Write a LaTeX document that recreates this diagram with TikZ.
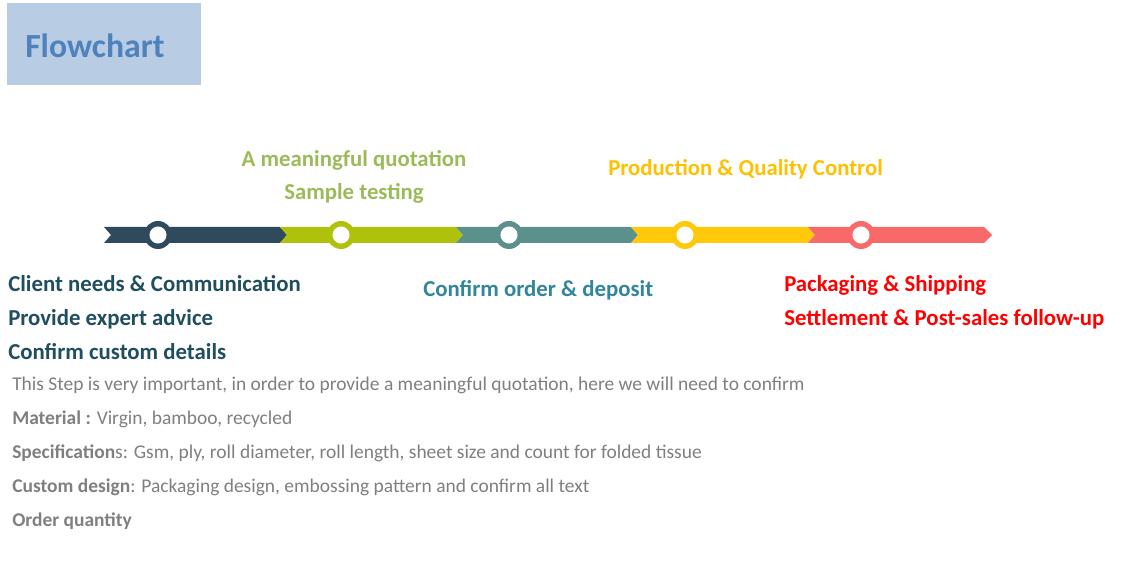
\documentclass[tikz,border=0pt]{standalone}
\usepackage{fontspec}
\setmainfont{Carlito}
\usepackage{xcolor}
\definecolor{boxblue}{RGB}{184,204,228}
\definecolor{titleblue}{RGB}{79,129,189}
\definecolor{navy}{RGB}{46,74,92}
\definecolor{lime}{RGB}{175,193,10}
\definecolor{sea}{RGB}{92,144,140}
\definecolor{gold}{RGB}{255,200,10}
\definecolor{coral}{RGB}{248,106,106}
\definecolor{navytext}{RGB}{31,78,95}
\definecolor{limetext}{RGB}{155,187,89}
\definecolor{seatext}{RGB}{49,133,156}
\definecolor{goldtext}{RGB}{255,192,0}
\definecolor{greytext}{RGB}{127,127,127}

\tikzset{
  headtext/.style={anchor=west, inner sep=0pt, text height=0.7em, text depth=0.2em,
    font=\fontsize{17.1}{19}\selectfont\bfseries},
  bodytext/.style={anchor=west, inner sep=0pt, text height=0.7em, text depth=0.2em,
    text=greytext, font=\fontsize{14.6}{16}\selectfont},
}

\begin{document}
\begin{tikzpicture}[x=0.75pt,y=-0.75pt]
\useasboundingbox (0,0) rectangle (1129,580);

% Title
\fill[boxblue] (7,3) rectangle (201,85);
\node[anchor=west, inner sep=0pt, text height=0.7em, text depth=0.2em, text=titleblue,
  font=\fontsize{25.3}{28}\selectfont\bfseries] (title) at (25,54) {Flowchart};

% Timeline
\fill[navy] (104,227) -- (280,227) -- (287,235) -- (280,243) -- (104,243) -- (111,235) -- cycle;
\fill[lime] (280,227) -- (456,227) -- (463,235) -- (456,243) -- (280,243) -- (287,235) -- cycle;
\fill[sea]  (456,227) -- (631,227) -- (638,235) -- (631,243) -- (456,243) -- (463,235) -- cycle;
\fill[gold] (631,227) -- (808,227) -- (815,235) -- (808,243) -- (631,243) -- (638,235) -- cycle;
\fill[coral] (808,227) -- (984,227) -- (992,235) -- (984,243) -- (808,243) -- (815,235) -- cycle;

% Rings
\foreach \x/\c in {158/navy, 341/lime, 509/sea, 685/gold, 861/coral}{
  \fill[\c] (\x,235) circle (10.5pt);
  \fill[white] (\x,235) circle (6.4pt);
}

% Step 1
\node[headtext, text=navytext] (client) at (8,288) {Client needs \& Communication};
\node[headtext, text=navytext] (advice) at (8,322) {Provide expert advice};
\node[headtext, text=navytext] (custom) at (8,356) {Confirm custom details};

% Step 2
\node[headtext, anchor=center, text=limetext] (quote) at (354,163) {A meaningful quotation};
\node[headtext, anchor=center, text=limetext] (sample) at (354,196) {Sample testing};

% Step 3
\node[headtext, text=seatext] (order) at (423,293) {Confirm order \& deposit};

% Step 4
\node[headtext, text=goldtext] (prod) at (608,172) {Production \& Quality Control};

% Step 5
\node[headtext, text=red] (pack) at (784,288) {Packaging \& Shipping};
\node[headtext, text=red] (settle) at (784,322) {Settlement \& Post-sales follow-up};

% Notes
\node[bodytext] (note) at (12,387) {This Step is very important, in order to provide a meaningful quotation, here we will need to confirm};
\node[bodytext] (material) at (12,421) {\textbf{Material :} Virgin, bamboo, recycled};
\node[bodytext] (spec) at (12,455) {\textbf{Specification}s: Gsm, ply, roll diameter, roll length, sheet size and count for folded tissue};
\node[bodytext] (design) at (12,489) {\textbf{Custom design}: Packaging design, embossing pattern and confirm all text};
\node[bodytext] (qty) at (12,523) {\textbf{Order quantity}};
\end{tikzpicture}
\end{document}
